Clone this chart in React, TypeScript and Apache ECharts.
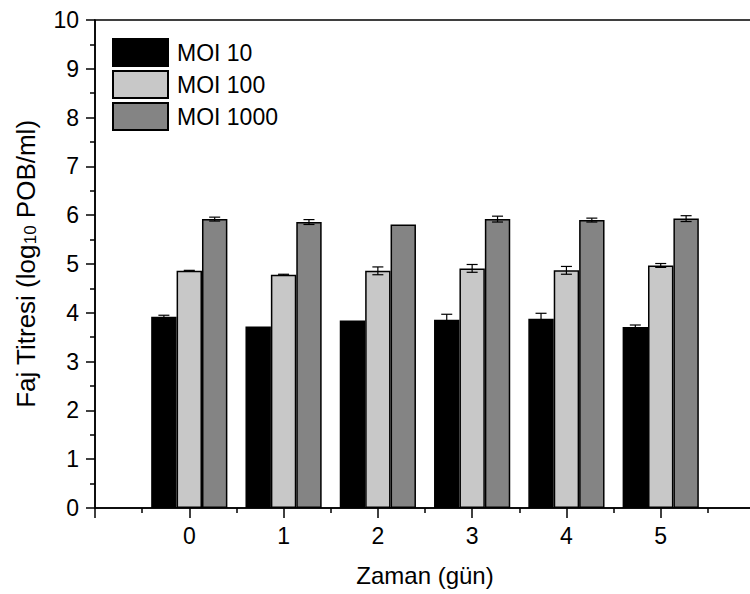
import React, { useEffect, useRef } from "react";
import * as echarts from "echarts";

const days = [0, 1, 2, 3, 4, 5];
const moi10 = [3.92, 3.72, 3.84, 3.86, 3.88, 3.71];
const moi100 = [4.86, 4.78, 4.86, 4.91, 4.87, 4.97];
const moi1000 = [5.92, 5.86, 5.81, 5.92, 5.9, 5.93];
const err10 = [0.03, 0, 0, 0.11, 0.11, 0.04];
const err100 = [0.01, 0.01, 0.08, 0.08, 0.08, 0.04];
const err1000 = [0.04, 0.05, 0, 0.06, 0.04, 0.06];
const seriesNames = ["MOI 10", "MOI 100", "MOI 1000"];
const yTicks = [0, 1, 2, 3, 4, 5, 6, 7, 8, 9, 10];

const FONT = "'Liberation Sans', Arial, Helvetica, sans-serif";
const BAR_W = 25.4;
const COLORS = ["#000000", "#c8c8c8", "#848484"];

export default function App() {
  const ref = useRef<HTMLDivElement>(null);
  useEffect(() => {
    if (!ref.current) return;
    const chart = echarts.init(ref.current, undefined, { renderer: "svg" });
    const vals = [moi10, moi100, moi1000];
    const errs = [err10, err100, err1000];

    const barSeries = vals.map((arr, k) => ({
      name: seriesNames[k],
      type: "bar",
      data: days.map((d, i) => [d, arr[i]]),
      barWidth: BAR_W,
      barGap: "0%",
      itemStyle: { color: COLORS[k], borderColor: "#000", borderWidth: 1.5 },
      z: 2,
    }));

    const errSeries = errs.map((earr, k) => ({
      type: "custom",
      z: 4,
      silent: true,
      data: days.map((d, i) => [d, vals[k][i], earr[i]]),
      renderItem: (params: any, api: any) => {
        const x = api.value(0);
        const y = api.value(1);
        const e = api.value(2);
        if (!e) return { type: "group", children: [] };
        const off = (k - 1) * BAR_W;
        const top = api.coord([x, y + e]);
        const bot = api.coord([x, y - e]);
        const cx = top[0] + off;
        const hw = 5.5;
        const st = { stroke: "#000", lineWidth: 1.2 };
        return {
          type: "group",
          children: [
            { type: "line", shape: { x1: cx, y1: top[1], x2: cx, y2: bot[1] }, style: st },
            { type: "line", shape: { x1: cx - hw, y1: top[1], x2: cx + hw, y2: top[1] }, style: st },
            { type: "line", shape: { x1: cx - hw, y1: bot[1], x2: cx + hw, y2: bot[1] }, style: st },
          ],
        };
      },
    }));

    chart.setOption({
      animation: false,
      textStyle: { fontFamily: FONT, color: "#000" },
      grid: {
        left: 95,
        right: 0,
        top: 20,
        bottom: 86,
        show: true,
        borderColor: "#000",
        borderWidth: 1.5,
        backgroundColor: "transparent",
      },
      legend: {
        orient: "vertical",
        left: 107,
        top: 33,
        itemWidth: 55,
        itemHeight: 27,
        itemGap: 3,
        icon: "rect",
        data: seriesNames,
        textStyle: { fontFamily: FONT, fontSize: 23, color: "#000", padding: [0, 0, 0, 4] },
      },
      xAxis: {
        type: "value",
        min: -1,
        max: 6,
        interval: 1,
        name: "Zaman (gün)",
        nameLocation: "middle",
        nameGap: 55,
        nameTextStyle: { fontFamily: FONT, fontSize: 24, color: "#000" },
        axisLine: { show: true, onZero: false, lineStyle: { color: "#000", width: 1.5 } },
        axisTick: { show: true, length: 10, lineStyle: { color: "#000", width: 1.5 } },
        minorTick: { show: true, splitNumber: 2, length: 5, lineStyle: { color: "#000", width: 1.5 } },
        splitLine: { show: false },
        minorSplitLine: { show: false },
        axisLabel: {
          fontFamily: FONT,
          fontSize: 23,
          color: "#000",
          margin: 16,
          formatter: (v: number) => (days.includes(v) ? String(v) : ""),
        },
      },
      yAxis: {
        type: "value",
        min: yTicks[0],
        max: yTicks[yTicks.length - 1],
        interval: 1,
        name: "{a|Faj Titresi (log}{sub|10}{a| POB/ml)}",
        nameLocation: "middle",
        nameGap: 56,
        nameTextStyle: {
          rich: {
            a: { fontFamily: FONT, fontSize: 26, color: "#000" },
            sub: { fontFamily: FONT, fontSize: 17, color: "#000", verticalAlign: "bottom", padding: [10, 0, 0, 0] },
          },
        },
        axisLine: { show: true, onZero: false, lineStyle: { color: "#000", width: 1.5 } },
        axisTick: { show: true, length: 9, lineStyle: { color: "#000", width: 1.5 } },
        minorTick: { show: true, splitNumber: 2, length: 5, lineStyle: { color: "#000", width: 1.5 } },
        splitLine: { show: false },
        minorSplitLine: { show: false },
        axisLabel: { fontFamily: FONT, fontSize: 23, color: "#000", margin: 16 },
      },
      series: [...barSeries, ...errSeries],
    });
    return () => chart.dispose();
  }, []);
  return (
    <div
      ref={ref}
      style={{ position: "fixed", left: 0, top: 0, width: 758, height: 594, background: "#fff" }}
    />
  );
}
